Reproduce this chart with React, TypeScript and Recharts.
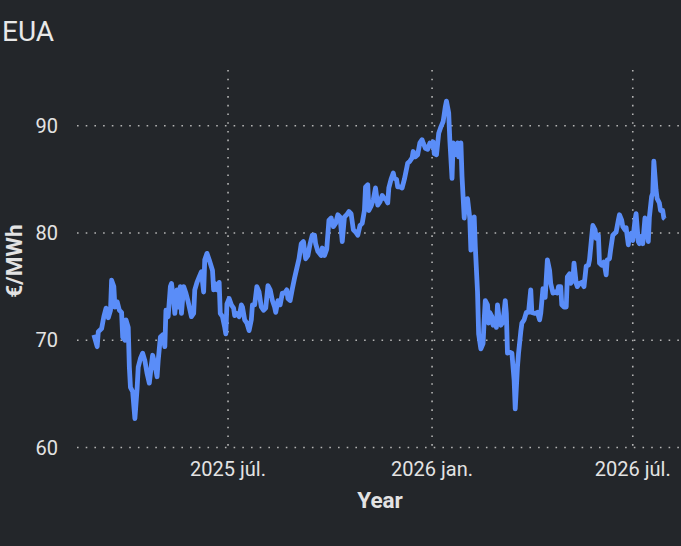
import { CartesianGrid, Label, Line, LineChart, XAxis, YAxis } from "recharts";

// EUA price
const dates = [
  "2025-03-02", "2025-03-05", "2025-03-06", "2025-03-09", "2025-03-11", "2025-03-13", "2025-03-15", "2025-03-17",
  "2025-03-18", "2025-03-20", "2025-03-21", "2025-03-23", "2025-03-25", "2025-03-27", "2025-03-28", "2025-03-30",
  "2025-03-31", "2025-04-02", "2025-04-03", "2025-04-04", "2025-04-06", "2025-04-08", "2025-04-10", "2025-04-11",
  "2025-04-13", "2025-04-15", "2025-04-17", "2025-04-19", "2025-04-21", "2025-04-23", "2025-04-24", "2025-04-26",
  "2025-04-28", "2025-04-29", "2025-05-01", "2025-05-03", "2025-05-05", "2025-05-06", "2025-05-08", "2025-05-10",
  "2025-05-11", "2025-05-13", "2025-05-14", "2025-05-16", "2025-05-17", "2025-05-19", "2025-05-20", "2025-05-22",
  "2025-05-24", "2025-05-26", "2025-05-29", "2025-05-31", "2025-06-01", "2025-06-03", "2025-06-05", "2025-06-07",
  "2025-06-09", "2025-06-10", "2025-06-12", "2025-06-14", "2025-06-17", "2025-06-18", "2025-06-19", "2025-06-21",
  "2025-06-23", "2025-06-24", "2025-06-26", "2025-06-28", "2025-06-29", "2025-06-30", "2025-07-02", "2025-07-04",
  "2025-07-06", "2025-07-07", "2025-07-09", "2025-07-11", "2025-07-13", "2025-07-14", "2025-07-16", "2025-07-18",
  "2025-07-20", "2025-07-22", "2025-07-23", "2025-07-25", "2025-07-27", "2025-07-29", "2025-07-31", "2025-08-02",
  "2025-08-04", "2025-08-06", "2025-08-08", "2025-08-10", "2025-08-12", "2025-08-13", "2025-08-15", "2025-08-17",
  "2025-08-19", "2025-08-21", "2025-08-23", "2025-08-24", "2025-08-26", "2025-08-28", "2025-08-30", "2025-09-01",
  "2025-09-03", "2025-09-05", "2025-09-07", "2025-09-09", "2025-09-11", "2025-09-13", "2025-09-15", "2025-09-17",
  "2025-09-18", "2025-09-20", "2025-09-23", "2025-09-24", "2025-09-26", "2025-09-28", "2025-09-30", "2025-10-02",
  "2025-10-04", "2025-10-06", "2025-10-08", "2025-10-10", "2025-10-12", "2025-10-14", "2025-10-16", "2025-10-18",
  "2025-10-20", "2025-10-22", "2025-10-24", "2025-10-26", "2025-10-28", "2025-10-30", "2025-11-01", "2025-11-02",
  "2025-11-04", "2025-11-05", "2025-11-07", "2025-11-09", "2025-11-11", "2025-11-12", "2025-11-13", "2025-11-15",
  "2025-11-17", "2025-11-19", "2025-11-20", "2025-11-22", "2025-11-23", "2025-11-25", "2025-11-27", "2025-11-28",
  "2025-11-30", "2025-12-01", "2025-12-03", "2025-12-05", "2025-12-07", "2025-12-09", "2025-12-10", "2025-12-12",
  "2025-12-14", "2025-12-15", "2025-12-17", "2025-12-19", "2025-12-21", "2025-12-23", "2025-12-24", "2025-12-26",
  "2025-12-28", "2025-12-30", "2025-12-31", "2026-01-02", "2026-01-03", "2026-01-05", "2026-01-07", "2026-01-09",
  "2026-01-11", "2026-01-13", "2026-01-14", "2026-01-16", "2026-01-17", "2026-01-19", "2026-01-20", "2026-01-22",
  "2026-01-24", "2026-01-25", "2026-01-27", "2026-01-28", "2026-01-30", "2026-01-31", "2026-02-02", "2026-02-04",
  "2026-02-05", "2026-02-07", "2026-02-08", "2026-02-09", "2026-02-11", "2026-02-12", "2026-02-14", "2026-02-16",
  "2026-02-17", "2026-02-18", "2026-02-20", "2026-02-21", "2026-02-22", "2026-02-24", "2026-02-25", "2026-02-26",
  "2026-02-28", "2026-03-01", "2026-03-03", "2026-03-04", "2026-03-06", "2026-03-08", "2026-03-09", "2026-03-10",
  "2026-03-12", "2026-03-14", "2026-03-16", "2026-03-17", "2026-03-19", "2026-03-20", "2026-03-22", "2026-03-23",
  "2026-03-25", "2026-03-27", "2026-03-29", "2026-03-31", "2026-04-01", "2026-04-04", "2026-04-06", "2026-04-08",
  "2026-04-09", "2026-04-11", "2026-04-13", "2026-04-15", "2026-04-17", "2026-04-18", "2026-04-20", "2026-04-22",
  "2026-04-24", "2026-04-25", "2026-04-27", "2026-04-28", "2026-04-30", "2026-05-02", "2026-05-03", "2026-05-05",
  "2026-05-06", "2026-05-08", "2026-05-09", "2026-05-11", "2026-05-12", "2026-05-14", "2026-05-16", "2026-05-18",
  "2026-05-20", "2026-05-22", "2026-05-23", "2026-05-25", "2026-05-26", "2026-05-28", "2026-05-29", "2026-05-31",
  "2026-06-01", "2026-06-03", "2026-06-05", "2026-06-07", "2026-06-08", "2026-06-10", "2026-06-11", "2026-06-13",
  "2026-06-15", "2026-06-16", "2026-06-18", "2026-06-19", "2026-06-21", "2026-06-22", "2026-06-24", "2026-06-25",
  "2026-06-27", "2026-06-28", "2026-06-30", "2026-07-01", "2026-07-03", "2026-07-04", "2026-07-06", "2026-07-07",
  "2026-07-09", "2026-07-10", "2026-07-12", "2026-07-13", "2026-07-15", "2026-07-16", "2026-07-18", "2026-07-19",
  "2026-07-20", "2026-07-22", "2026-07-23", "2026-07-25", "2026-07-26", "2026-07-28", "2026-07-29", "2026-07-30",
];

const prices = [
  70.5, 69.4, 70.8, 71.1, 72.2, 73.0, 72.1, 72.8,
  75.6, 75.0, 73.1, 73.6, 72.8, 72.6, 70.3, 70.0,
  71.9, 71.2, 67.5, 65.6, 65.2, 62.7, 65.5, 67.5,
  68.3, 68.8, 68.1, 66.9, 66.0, 67.8, 68.6, 67.8,
  66.6, 68.1, 70.3, 70.5, 69.4, 72.8, 72.2, 75.0,
  75.3, 73.7, 72.5, 74.7, 73.1, 75.0, 72.5, 75.0,
  74.4, 73.6, 72.2, 72.5, 74.7, 75.4, 75.9, 76.4,
  74.5, 77.5, 78.1, 77.5, 76.5, 74.7, 75.3, 74.7,
  75.4, 72.5, 72.2, 71.2, 70.6, 73.4, 73.9, 73.3,
  73.0, 72.3, 72.5, 72.2, 73.3, 73.1, 71.9, 71.6,
  70.9, 71.9, 73.3, 73.3, 75.0, 74.5, 73.1, 72.8,
  73.0, 75.1, 74.7, 73.7, 73.1, 72.6, 73.7, 73.3,
  74.4, 74.4, 74.7, 73.9, 73.7, 74.8, 75.8, 76.7,
  77.6, 79.0, 79.2, 77.6, 77.9, 79.0, 79.8, 79.8,
  79.0, 78.3, 77.9, 78.6, 77.9, 78.5, 81.2, 81.4,
  80.6, 80.9, 81.7, 81.5, 79.2, 81.5, 81.7, 82.0,
  81.8, 80.3, 80.1, 79.8, 80.7, 80.9, 82.1, 84.3,
  84.5, 82.1, 82.5, 83.1, 84.2, 83.4, 82.6, 82.9,
  83.5, 83.2, 83.2, 82.8, 84.2, 85.0, 85.6, 85.1,
  85.0, 84.3, 84.3, 84.2, 85.0, 86.0, 86.5, 86.7,
  87.0, 87.6, 87.1, 87.3, 88.4, 88.7, 88.4, 87.9,
  87.8, 88.4, 88.1, 88.5, 87.4, 87.3, 89.3, 89.9,
  90.4, 91.8, 92.3, 91.2, 88.7, 85.1, 88.4, 87.3,
  88.4, 87.1, 88.4, 85.3, 81.4, 83.1, 83.2, 81.4,
  78.4, 81.4, 81.5, 78.7, 74.5, 70.6, 69.2, 69.7,
  71.9, 73.7, 73.3, 71.6, 72.6, 72.2, 71.4, 72.0,
  71.2, 73.3, 71.6, 71.4, 71.7, 73.7, 72.5, 68.8,
  68.9, 68.8, 66.3, 63.6, 67.5, 68.8, 70.8, 71.6,
  71.9, 72.6, 72.6, 74.7, 72.6, 72.5, 72.6, 71.9,
  72.5, 74.8, 74.0, 77.5, 76.5, 75.3, 74.4, 74.5,
  74.4, 75.0, 75.0, 73.3, 73.1, 73.1, 75.9, 76.2,
  75.3, 75.6, 77.2, 75.3, 75.0, 75.3, 75.4, 75.0,
  76.9, 77.0, 77.5, 79.7, 80.7, 80.3, 79.5, 79.8,
  77.2, 77.0, 77.3, 76.1, 77.5, 77.6, 78.4, 79.8,
  80.0, 80.1, 81.2, 81.7, 81.2, 80.6, 80.3, 80.5,
  78.9, 79.8, 80.0, 79.3, 81.2, 81.8, 79.2, 79.0,
  79.7, 79.0, 81.4, 81.2, 79.2, 81.5, 83.4, 83.7,
  86.7, 84.0, 83.2, 82.8, 82.1, 82.1, 81.4, 81.3,
];

const tickDates = ["2025-07-01", "2026-01-01", "2026-07-01"];
const tickLabels = ["2025 júl.", "2026 jan.", "2026 júl."];
const yTicks = [60, 70, 80, 90];

const toTs = (d: string) => Date.parse(d + "T00:00:00Z");

const data = dates.map((d, i) => ({ t: toTs(d), price: prices[i] }));
const xTicks = tickDates.map(toTs);

const BG = "#23262a";
const TEXT = "#e3e3e3";
const FONT = "Roboto, sans-serif";

// grid only on the tick values, placed through the axis scales
const scaleOf = (axis: any) => {
  const s = axis?.scale;
  if (typeof s === "function") return s;
  if (s && typeof s.map === "function") return (v: number) => s.map(v);
  return null;
};

export default function App() {
  return (
    <div style={{ position: "absolute", left: 0, top: 0, width: 681, height: 546, background: BG, fontFamily: FONT }}>
      <LineChart width={681} height={546} data={data} margin={{ top: 70, right: 0, bottom: 0, left: 0 }}>
        <CartesianGrid
          stroke="#b4b4b4"
          strokeWidth={1.6}
          strokeDasharray="1.6 7.1"
          horizontalCoordinatesGenerator={(props: any) => {
            const f = scaleOf(props.yAxis);
            return f ? yTicks.map((v) => f(v)) : [];
          }}
          verticalCoordinatesGenerator={(props: any) => {
            const f = scaleOf(props.xAxis);
            return f ? xTicks.map((v) => f(v)) : [];
          }}
        />
        <XAxis
          dataKey="t"
          type="number"
          domain={[Date.UTC(2025, 1, 14, 19), Date.UTC(2026, 7, 13, 12)]}
          ticks={xTicks}
          interval={0}
          allowDataOverflow
          height={98.5}
          axisLine={false}
          tickLine={false}
          tickSize={0}
          tickMargin={14}
          tick={{ fill: TEXT, fontSize: 20, fontFamily: FONT }}
          tickFormatter={(v: number) => tickLabels[xTicks.indexOf(v)] ?? ""}
        >
          <Label
            content={() => (
              <text x={380} y={508} textAnchor="middle" fill={TEXT} fontSize={22.5} fontWeight={700} fontFamily={FONT}>
                Year
              </text>
            )}
          />
        </XAxis>
        <YAxis
          type="number"
          domain={[60, 95.2]}
          ticks={yTicks}
          allowDataOverflow
          width={77}
          axisLine={false}
          tickLine={false}
          tickSize={0}
          tickMargin={19}
          tick={{ fill: TEXT, fontSize: 20, fontFamily: FONT }}
        >
          <Label
            content={() => (
              <g>
                <text
                  x={22}
                  y={261}
                  transform="rotate(-90 22 261)"
                  textAnchor="middle"
                  fill={TEXT}
                  fontSize={22.5}
                  fontWeight={700}
                  fontFamily={FONT}
                >
                  €/MWh
                </text>
                <text x={2} y={41} fill="#e8e8e8" fontSize={28} fontFamily={FONT}>
                  EUA
                </text>
              </g>
            )}
          />
        </YAxis>
        <Line
          type="linear"
          dataKey="price"
          stroke="#5a8df8"
          strokeWidth={4.8}
          strokeLinejoin="round"
          dot={false}
          activeDot={false}
          isAnimationActive={false}
        />
      </LineChart>
    </div>
  );
}
